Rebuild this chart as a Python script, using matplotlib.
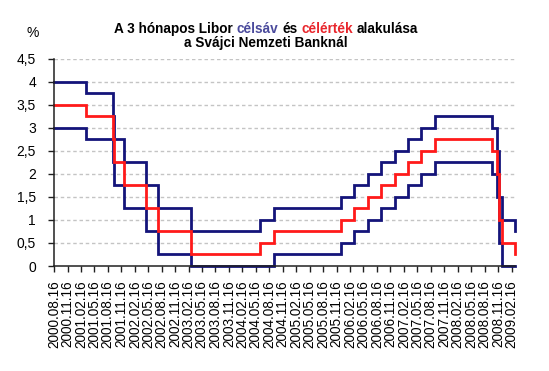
import matplotlib
matplotlib.use("Agg")
import matplotlib.pyplot as plt
import matplotlib.dates as mdates
import pandas as pd

plt.rcParams['font.family'] = ['Liberation Sans', 'DejaVu Sans']

# ---- data: SNB 3-month Libor target range and target value ----
change_dates = ["2000-08-16", "2001-03-22", "2001-09-17", "2001-09-24", "2001-12-07",
                "2002-05-02", "2002-07-26", "2003-03-06", "2004-06-17", "2004-09-16",
                "2005-12-15", "2006-03-16", "2006-06-15", "2006-09-14", "2006-12-14",
                "2007-03-15", "2007-06-14", "2007-09-13", "2008-10-08", "2008-11-06",
                "2008-11-20", "2008-12-11", "2009-03-12", "2009-03-13"]
lower = [3.0, 2.75, 2.25, 1.75, 1.25, 0.75, 0.25, 0.0, 0.0, 0.25,
         0.5, 0.75, 1.0, 1.25, 1.5, 1.75, 2.0, 2.25, 2.0, 1.5,
         0.5, 0.0, 0.0, 0.0]
target = [3.5, 3.25, 2.75, 2.25, 1.75, 1.25, 0.75, 0.25, 0.5, 0.75,
          1.0, 1.25, 1.5, 1.75, 2.0, 2.25, 2.5, 2.75, 2.5, 2.0,
          1.0, 0.5, 0.25, 0.25]
upper = [4.0, 3.75, 3.25, 2.75, 2.25, 1.75, 1.25, 0.75, 1.0, 1.25,
         1.5, 1.75, 2.0, 2.25, 2.5, 2.75, 3.0, 3.25, 3.0, 2.5,
         1.5, 1.0, 0.75, 0.75]

y_ticks = [0, 0.5, 1, 1.5, 2, 2.5, 3, 3.5, 4, 4.5]
y_labels = ["0", "0,5", "1", "1,5", "2", "2,5", "3", "3,5", "4", "4,5"]

x_start = "2000-08-16"
x_end = "2009-03-13"
tick_dates = pd.date_range("2000-08-01", "2009-02-01", freq="3MS") + pd.Timedelta(days=15)
tick_labels = [d.strftime("%Y.%m.%d") for d in tick_dates]

title_words = [("A 3 hónapos Libor", "black"), ("célsáv", "#4a4a9c"), ("és", "black"),
               ("célérték", "#e8262c"), ("alakulása", "black")]
title_line2 = "a Svájci Nemzeti Banknál"

# ---- figure ----
W, H = 549, 371
fig = plt.figure(figsize=(W / 100, H / 100), dpi=100)
ax = fig.add_axes([54 / W, 105 / H, 461.4 / W, 207.4 / H])

d = pd.to_datetime(change_dates)
navy = "#14147a"
red = "#ff1a1a"
ax.plot(d, upper, drawstyle="steps-post", color=navy, lw=2.0, solid_joinstyle="miter", clip_on=False)
ax.plot(d, lower, drawstyle="steps-post", color=navy, lw=2.0, solid_joinstyle="miter", clip_on=False)
ax.plot(d, target, drawstyle="steps-post", color=red, lw=2.0, solid_joinstyle="miter", clip_on=False)

ax.set_xlim(pd.Timestamp(x_start), pd.Timestamp(x_end))
ax.set_ylim(0, 4.5)
ax.set_yticks(y_ticks)
ax.set_yticklabels(y_labels, fontsize=10)
ax.set_xticks(tick_dates)
ax.set_xticklabels(tick_labels, rotation=90, fontsize=9.8)

for y in y_ticks[1:]:
    ax.axhline(y, color="#c4c4c4", lw=1.0, ls=(0, (2.5, 2)), zorder=0)

for s in ["top", "right"]:
    ax.spines[s].set_visible(False)
for s in ["left", "bottom"]:
    ax.spines[s].set_color("#202020")
    ax.spines[s].set_linewidth(1.1)
ax.tick_params(axis="both", direction="out", length=4, width=1, color="#202020")
ax.tick_params(axis="y", pad=9)
ax.tick_params(axis="x", pad=6)

# ---- title with coloured words ----
fs_title = 9.8
r = fig.canvas.get_renderer()
def tw(s):
    t = fig.text(0, 0, s, fontsize=fs_title, fontweight="bold")
    w = t.get_window_extent(r).width
    t.remove()
    return w
space = tw("a a") - tw("aa")
widths = [tw(s) for s, _ in title_words]
total = sum(widths) + space * (len(title_words) - 1)
xc = 266
x = xc - total / 2
y1 = 1 - 29 / H
for (s, c), w in zip(title_words, widths):
    fig.text(x / W, y1, s, fontsize=fs_title, fontweight="bold", color=c, va="center", ha="left")
    x += w + space
fig.text(xc / W, 1 - 42.5 / H, title_line2, fontsize=fs_title, fontweight="bold", color="black",
         va="center", ha="center")

fig.text(33 / W, 1 - 33 / H, "%", fontsize=10, ha="center", va="center")

fig.savefig("out.png", dpi=100)
